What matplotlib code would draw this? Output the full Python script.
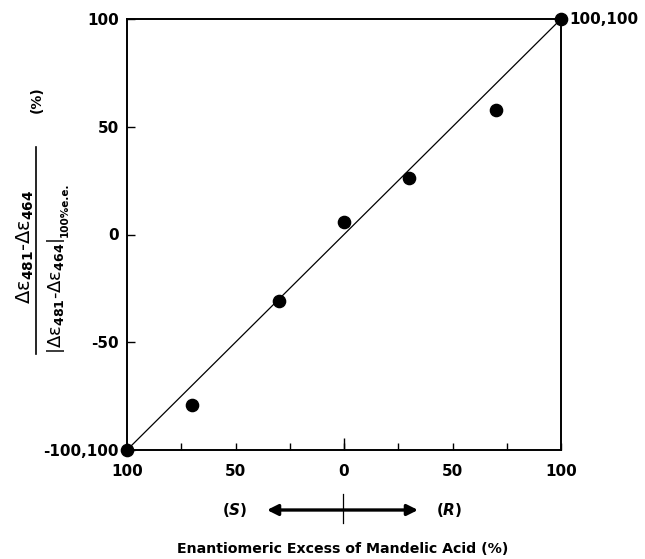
import matplotlib
matplotlib.use('Agg')
import matplotlib.pyplot as plt
from matplotlib.patches import FancyArrowPatch
from matplotlib.ticker import FixedLocator

plt.rcParams['font.family'] = ['DejaVu Sans']
plt.rcParams['font.weight'] = 'bold'
plt.rcParams['mathtext.fontset'] = 'custom'
plt.rcParams['mathtext.rm'] = 'DejaVu Sans:bold'
plt.rcParams['mathtext.it'] = 'DejaVu Sans:bold:italic'
plt.rcParams['mathtext.bf'] = 'DejaVu Sans:bold'

# enantiomeric excess (S negative, R positive) vs normalised CD response
ee = [-100, -70, -30, 0, 30, 70, 100]
response = [-100, -79, -31, 6, 26, 58, 100]
ideal_x = [-100, 100]
ideal_y = [-100, 100]

x_ticks = [-100, -50, 0, 50, 100]
x_ticklabels = ['100', '50', '0', '50', '100']
x_minor = [-75, -25, 25, 75]
y_ticks = [-100, -50, 0, 50, 100]
y_ticklabels = ['-100,100', '-50', '0', '50', '100']

W, H = 645, 559
fig = plt.figure(figsize=(W / 100, H / 100), dpi=100)
ax = fig.add_axes([127 / W, 1 - 450 / H, 434 / W, 431 / H])

ax.plot(ideal_x, ideal_y, color='black', linewidth=0.9, clip_on=False)
ax.plot(ee, response, 'o', color='black', markersize=8.8, clip_on=False, zorder=5)

ax.set_xlim(-100, 100)
ax.set_ylim(-100, 100)

ax.set_xticks(x_ticks)
ax.set_xticklabels(x_ticklabels)
ax.xaxis.set_minor_locator(FixedLocator(x_minor + [0]))
ax.xaxis.remove_overlapping_locs = False
ax.set_yticks(y_ticks)
ax.set_yticklabels(y_ticklabels)

ax.tick_params(axis='x', which='major', direction='in', length=5, width=1,
               labelsize=11, pad=10)
ax.tick_params(axis='x', which='minor', direction='in', length=5, width=1)
ax.tick_params(axis='y', which='major', direction='in', length=6, width=1,
               labelsize=11, pad=6)
# longer centre mark at 0
ax.get_xaxis().get_minor_ticks()[-1].tick1line.set_markersize(9)

for s in ax.spines.values():
    s.set_linewidth(1.4)

ax.text(1.02, 1.0, '100,100', transform=ax.transAxes, ha='left', va='center',
        fontsize=11, fontweight='bold')

# y label: fraction drawn as rotated texts and a bar
fig.text(25 / W, 1 - 247 / H, 'Δε$_{481}$-Δε$_{464}$',
         rotation=90, ha='center', va='center', fontsize=14, fontweight='normal')
den = fig.text(56 / W, 1 - 354 / H, '|Δε$_{481}$-Δε$_{464}$|',
               rotation=90, ha='center', va='bottom', fontsize=13, fontweight='normal')
fig.canvas.draw()
den_top = den.get_window_extent().y1 / H
fig.text(65 / W, den_top + 1 / H, '100%e.e.',
         rotation=90, ha='center', va='bottom', fontsize=7.5)
fig.add_artist(plt.Line2D([36 / W, 36 / W], [1 - 147 / H, 1 - 354 / H],
                          color='black', linewidth=1.2, transform=fig.transFigure))
fig.text(37 / W, 1 - 100 / H, '(%)', rotation=90, ha='center', va='center',
         fontsize=10)

# S <-> R arrow under the axis
fig.text(235 / W, 1 - 510 / H, r'($\mathit{S}$)', ha='center', va='center',
         fontsize=11)
fig.text(449 / W, 1 - 510 / H, r'($\mathit{R}$)', ha='center', va='center',
         fontsize=11)
fig.add_artist(FancyArrowPatch(
    (267 / W, 1 - 510 / H), (418 / W, 1 - 510 / H),
    transform=fig.transFigure, arrowstyle='<|-|>', mutation_scale=16,
    color='black', linewidth=2.4, shrinkA=0, shrinkB=0))
fig.add_artist(plt.Line2D([343 / W, 343 / W], [1 - 494 / H, 1 - 523 / H],
                          color='black', linewidth=0.9, transform=fig.transFigure))

fig.text(343 / W, 1 - 549 / H, 'Enantiomeric Excess of Mandelic Acid (%)',
         ha='center', va='center', fontsize=10.2, fontweight='bold')

fig.savefig('out.png', dpi=100)
